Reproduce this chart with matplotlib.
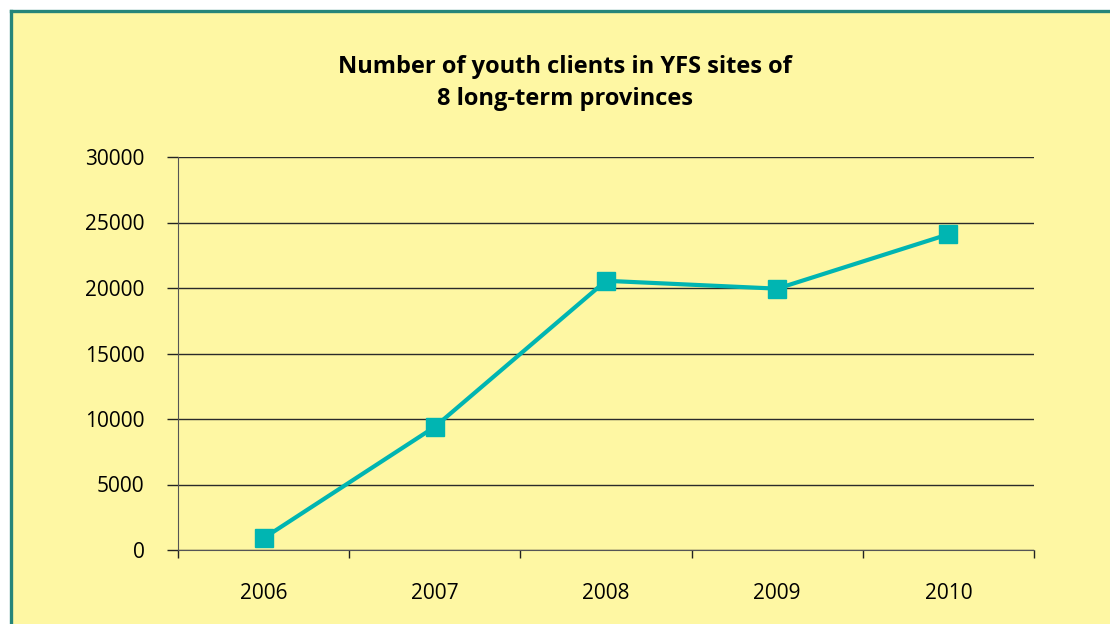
import matplotlib
matplotlib.use("Agg")
import matplotlib.pyplot as plt
from matplotlib.patches import Rectangle
from matplotlib.lines import Line2D

years = ["2006", "2007", "2008", "2009", "2010"]
clients = [900, 9400, 20550, 19950, 24100]
yticks = [0, 5000, 10000, 15000, 20000, 25000, 30000]

W, H = 1110, 624
fig = plt.figure(figsize=(W / 100, H / 100), dpi=100)
fig.patch.set_facecolor("white")

bg = "#FEF7A3"
teal_border = "#268579"
line_col = "#00B5B2"

# yellow panel with teal left/top border
fig.patches.append(Rectangle((11 / W, -0.1), 1.2, 1 - 11 / H + 0.1,
                             transform=fig.transFigure, facecolor=bg,
                             edgecolor="none", zorder=-2))
fig.lines.append(Line2D([11 / W, 11 / W], [0, 1 - 11 / H], transform=fig.transFigure,
                        color=teal_border, lw=2.4, zorder=-1))
fig.lines.append(Line2D([11 / W, 1], [1 - 11 / H, 1 - 11 / H], transform=fig.transFigure,
                        color=teal_border, lw=2.4, zorder=-1))

ax = fig.add_axes([178 / W, 1 - 550 / H, (1034 - 178) / W, (550 - 157) / H])
ax.set_zorder(2)
ax.set_facecolor("none")
x = list(range(len(years)))
ax.plot(x, clients, color=line_col, lw=3, marker="s", markersize=13.5,
        markerfacecolor=line_col, markeredgecolor=line_col, zorder=3, clip_on=False)

ax.set_xlim(-0.5, len(years) - 0.5)
ax.set_ylim(0, 30000)
ax.set_yticks(yticks)
ax.set_yticklabels([str(v) for v in yticks], fontsize=15, family="Open Sans")
ax.set_xticks([i + 0.5 for i in range(-1, len(years))])
ax.set_xticklabels([])
ax.set_xticks(x, minor=True)
ax.set_xticklabels(years, minor=True, fontsize=15, family="Open Sans")
ax.tick_params(axis="x", which="major", length=6, width=1, color="#222222", direction="out")
ax.tick_params(axis="x", which="minor", length=0, pad=24)
ax.tick_params(axis="y", length=8, width=1, color="#222222", pad=16)
ax.grid(axis="y", color="#2a2a2a", lw=1)
for s in ["top", "right"]:
    ax.spines[s].set_visible(False)
ax.spines["left"].set_color("#555555")
ax.spines["bottom"].set_color("#555555")
ax.set_axisbelow(True)

fig.text(565 / W, 1 - 67 / H, "Number of youth clients in YFS sites of",
         ha="center", va="center", fontsize=17, fontweight="bold", family="Open Sans")
fig.text(565 / W, 1 - 99 / H, "8 long-term provinces",
         ha="center", va="center", fontsize=17, fontweight="bold", family="Open Sans")

fig.savefig("out.png", dpi=100, facecolor=fig.get_facecolor())
